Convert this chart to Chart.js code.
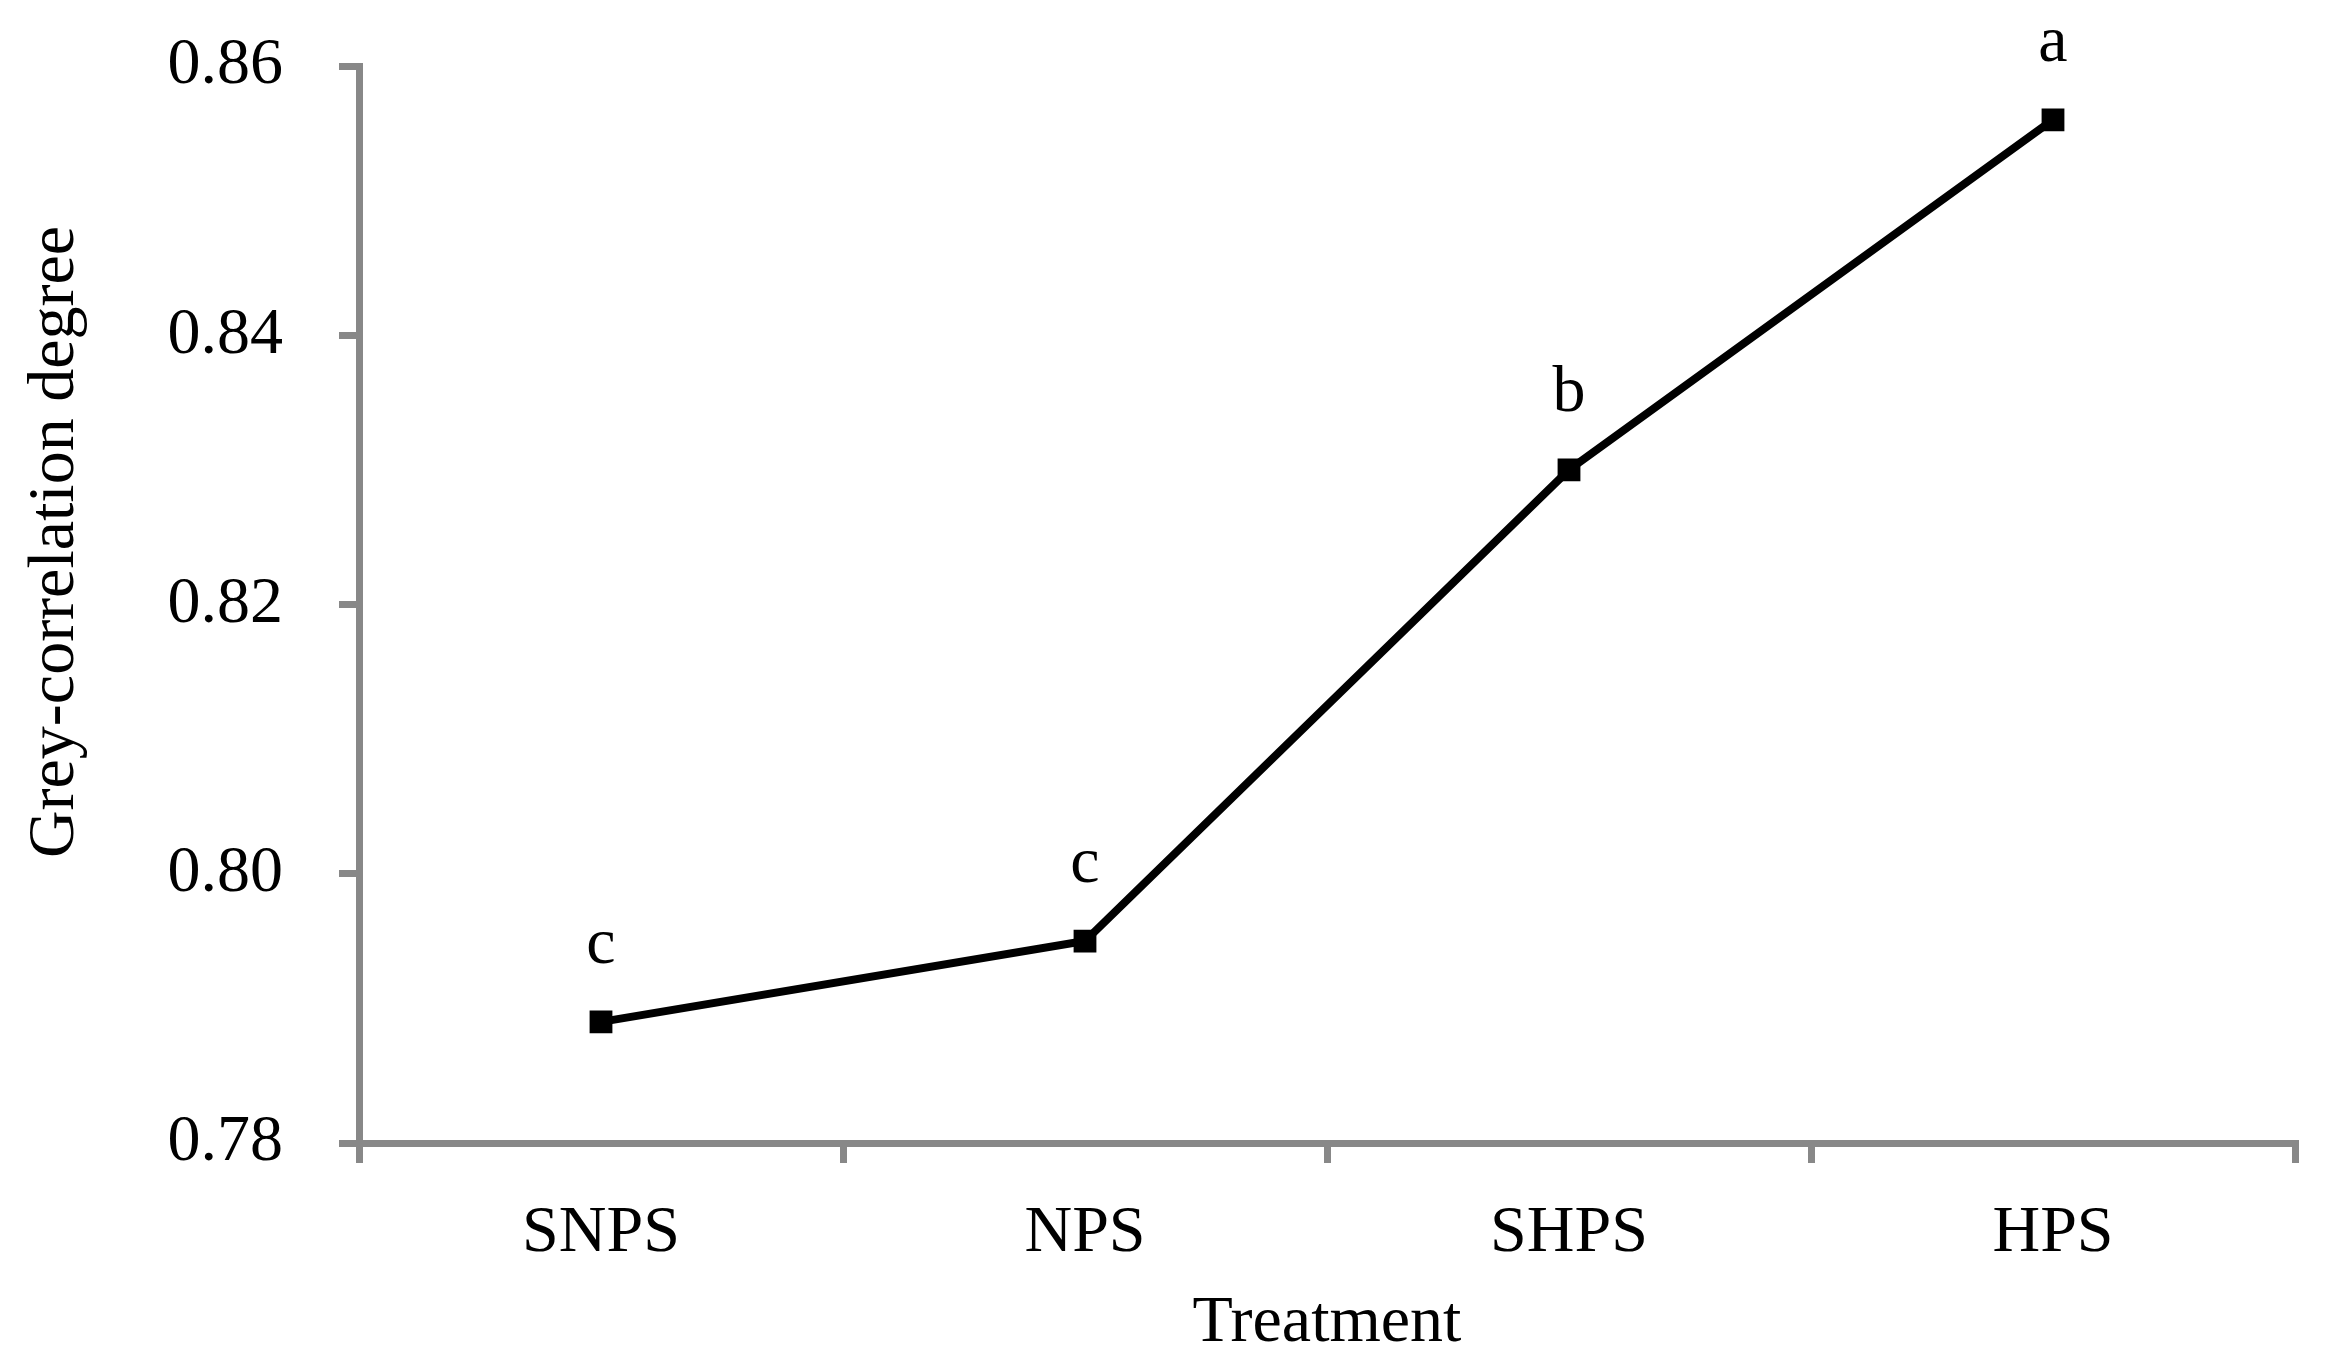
<!DOCTYPE html>
<html>
<head>
<meta charset="utf-8">
<title>Grey-correlation degree</title>
<script src="https://cdn.jsdelivr.net/npm/chart.js"></script>
<style>
  html, body { margin: 0; padding: 0; background: #fff; }
  canvas { display: block; }
</style>
</head>
<body>
<canvas id="greyChart" width="2327" height="1369"></canvas>
<script>
// data
const treatments = ['SNPS', 'NPS', 'SHPS', 'HPS'];
const greyDegree = [0.789, 0.795, 0.830, 0.856];
const sigLetters = ['c', 'c', 'b', 'a'];
const yTicks = [0.78, 0.80, 0.82, 0.84, 0.86];

const serif = '"Liberation Serif", "Times New Roman", serif';
const axisGrey = '#888888';

// significance letters above each point + the rotated y title
const letterPlugin = {
  id: 'letters',
  afterDatasetsDraw(chart) {
    const ctx = chart.ctx;
    const meta = chart.getDatasetMeta(0);
    ctx.save();
    ctx.fillStyle = '#000';
    ctx.font = '66px ' + serif;
    ctx.textAlign = 'center';
    ctx.textBaseline = 'alphabetic';
    meta.data.forEach((pt, i) => {
      ctx.fillText(sigLetters[i], pt.x, pt.y - 59);
    });
    ctx.restore();
  },
  afterDraw(chart) {
    const ctx = chart.ctx;
    ctx.save();
    ctx.fillStyle = '#000';
    ctx.font = '66px ' + serif;
    ctx.textAlign = 'center';
    ctx.textBaseline = 'middle';
    ctx.translate(56, 542);
    ctx.rotate(-Math.PI / 2);
    ctx.fillText('Grey-correlation degree', 0, 0);
    ctx.restore();
  }
};

const ctx = document.getElementById('greyChart').getContext('2d');
new Chart(ctx, {
  type: 'line',
  data: {
    labels: treatments,
    datasets: [{
      data: greyDegree,
      borderColor: '#000',
      borderWidth: 8,
      tension: 0,
      pointStyle: 'rect',
      pointRadius: 14,
      pointBorderWidth: 3,
      pointBackgroundColor: '#000',
      pointBorderColor: '#000'
    }]
  },
  options: {
    responsive: false,
    devicePixelRatio: 1,
    animation: false,
    layout: { padding: { top: 66, right: 32, bottom: 0, left: 0 } },
    plugins: {
      legend: { display: false },
      tooltip: { enabled: false }
    },
    scales: {
      x: {
        offset: true,
        grid: {
          offset: true,
          drawOnChartArea: false,
          drawTicks: true,
          tickLength: 20,
          lineWidth: 7,
          color: axisGrey
        },
        border: { display: true, color: axisGrey, width: 7 },
        ticks: {
          color: '#000',
          padding: 31,
          font: { family: serif, size: 66, lineHeight: 1.2 }
        },
        title: {
          display: true,
          text: 'Treatment',
          color: '#000',
          padding: { top: 0, bottom: 6 },
          font: { family: serif, size: 66, lineHeight: 1.2 }
        },
        afterFit(scale) { scale.height = 226; }
      },
      y: {
        min: 0.78,
        max: 0.86,
        afterBuildTicks(scale) {
          scale.ticks = yTicks.map(v => ({ value: v }));
        },
        grid: {
          drawOnChartArea: false,
          drawTicks: true,
          tickLength: 20,
          lineWidth: 7,
          color: axisGrey
        },
        border: { display: true, color: axisGrey, width: 7 },
        ticks: {
          color: '#000',
          padding: 56,
          font: { family: serif, size: 66 },
          callback: v => Number(v).toFixed(2)
        },
        afterFit(scale) {
          scale.width = 359;
          // the big label gap should not push the plot down
          scale.paddingTop = 40;
          scale.paddingBottom = 40;
        }
      }
    }
  },
  plugins: [letterPlugin]
});
</script>
</body>
</html>
